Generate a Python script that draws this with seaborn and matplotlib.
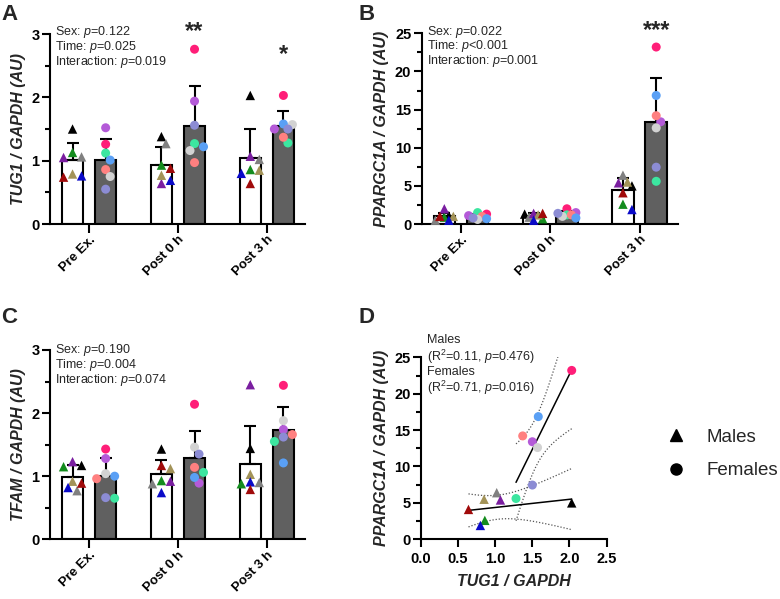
#! /bin/env python3

''' Four panel figure: TUG1 / PPARGC1A / TFAM expression and TUG1 vs PPARGC1A '''

import numpy as np
import pandas as pd
import matplotlib
matplotlib.use("Agg")
import matplotlib.pyplot as plt
import seaborn as sns
from matplotlib.ticker import MultipleLocator
from matplotlib.lines import Line2D

TIMES = ["Pre Ex.", "Post 0 h", "Post 3 h"]

# subject order, males: black, grey, green, purple, olive, blue, dark red
MALE_COLORS = ["#000000", "#808080", "#148c1e", "#7a1ea0", "#a39358", "#0a0ac8", "#a00a0a"]
# subject order, females: pink, orchid, aquamarine, salmon, cornflower, light grey, slate
FEMALE_COLORS = ["#ff1e78", "#b45ad8", "#3ce6a0", "#ff8080", "#5aa0f5", "#d2d2d2", "#8c8cd4"]

# TUG1 / GAPDH (panel A)
tug1_m_pre = [1.50, 1.06, 1.13, 1.05, 0.79, 0.76, 0.74]
tug1_m_p0 = [1.38, 1.27, 0.93, 0.64, 0.77, 0.69, 0.88]
tug1_m_p3 = [2.03, 1.02, 0.86, 1.07, 0.85, 0.80, 0.64]
tug1_f_pre = [1.26, 1.52, 1.12, 0.86, 1.01, 0.75, 0.55]
tug1_f_p0 = [2.76, 1.94, 1.27, 0.97, 1.22, 1.16, 1.56]
tug1_f_p3 = [2.03, 1.50, 1.28, 1.37, 1.58, 1.57, 1.50]

# PPARGC1A / GAPDH (panel B)
pgc_m_pre = [1.1, 0.5, 0.9, 2.0, 1.0, 0.5, 1.0]
pgc_m_p0 = [1.3, 0.9, 0.7, 1.4, 1.2, 0.5, 1.4]
pgc_m_p3 = [5.0, 6.4, 2.6, 5.4, 5.5, 1.9, 4.1]
pgc_f_pre = [1.3, 1.1, 1.5, 1.0, 0.7, 0.6, 0.8]
pgc_f_p0 = [2.0, 1.5, 1.2, 1.2, 0.8, 1.0, 1.4]
pgc_f_p3 = [23.2, 13.4, 5.6, 14.2, 16.85, 12.6, 7.45]

# TFAM / GAPDH (panel C)
tfam_m_pre = [1.17, 0.77, 1.15, 1.23, 0.92, 0.82, 0.89]
tfam_m_p0 = [1.43, 0.88, 0.93, 0.92, 1.12, 0.74, 1.17]
tfam_m_p3 = [1.44, 0.90, 0.88, 2.45, 1.03, 0.91, 0.79]
tfam_f_pre = [1.43, 1.28, 0.65, 0.96, 1.00, 1.04, 0.66]
tfam_f_p0 = [2.14, 0.89, 1.06, 1.14, 0.98, 1.46, 1.35]
tfam_f_p3 = [2.44, 1.74, 1.55, 1.66, 1.21, 1.88, 1.62]

stats_a = ["Sex: $\\mathit{p}$=0.122", "Time: $\\mathit{p}$=0.025", "Interaction: $\\mathit{p}$=0.019"]
stats_b = ["Sex: $\\mathit{p}$=0.022", "Time: $\\mathit{p}$<0.001", "Interaction: $\\mathit{p}$=0.001"]
stats_c = ["Sex: $\\mathit{p}$=0.190", "Time: $\\mathit{p}$=0.004", "Interaction: $\\mathit{p}$=0.074"]
stats_d = ["Males", "($\\mathregular{R^2}$=0.11, $\\mathit{p}$=0.476)",
           "Females", "($\\mathregular{R^2}$=0.71, $\\mathit{p}$=0.016)"]

T_CRIT = 2.5706  # t(0.975, df=5)
DODGE = 0.18625
LW = 1.5


def swarm_x(ax, xc, values, diam=9.0):
    ''' nudge points sideways (inside the bar) where they would overlap '''
    pts = ax.transData.transform(np.column_stack([np.full(len(values), xc), values]))
    px_per_x = ax.transData.transform((1, 0))[0] - ax.transData.transform((0, 0))[0]
    placed = []
    xs = np.zeros(len(values))
    for i in np.argsort(-np.asarray(values)):
        y = pts[i, 1]
        best, best_dist = 0.0, -1.0
        for k in [0, 1, -1, 2, -2]:
            dx = k * diam * 0.5
            dist = min([np.hypot(dx - px, y - py) for px, py in placed] or [99.0])
            if dist >= diam * 0.8:
                best = dx
                break
            if dist > best_dist:
                best, best_dist = dx, dist
        placed.append((best, y))
        xs[i] = xc + best / px_per_x
    return xs


def draw_points(ax, xc, values, colors, marker):
    xs = swarm_x(ax, xc, values)
    names = [f"s{i}" for i in range(len(values))]
    sns.scatterplot(x=xs, y=values, hue=names, palette=dict(zip(names, colors)),
                    marker=marker, s=46 if marker == "^" else 42, edgecolor="none",
                    legend=False, ax=ax, zorder=4, clip_on=False)


def style_axis(ax):
    sns.despine(ax=ax)
    for side in ("left", "bottom"):
        ax.spines[side].set_linewidth(LW)
    ax.tick_params(axis="both", which="major", width=LW, length=6, pad=1.5,
                   labelsize=10.5)
    ax.tick_params(axis="y", which="minor", width=LW, length=3.5)
    for lab in ax.get_xticklabels() + ax.get_yticklabels():
        lab.set_fontweight("bold")


def bar_panel(ax, male_sets, female_sets, ymax, major, ylabel, stats, stat_y):
    rows = []
    for t, m, f in zip(TIMES, male_sets, female_sets):
        rows += [(t, "Male", v) for v in m]
        rows += [(t, "Female", v) for v in f]
    data = pd.DataFrame(rows, columns=["time", "sex", "value"])

    sns.barplot(data=data, x="time", y="value", hue="sex", order=TIMES,
                hue_order=["Male", "Female"],
                palette={"Male": "white", "Female": "#606060"},
                errorbar=None, width=2 * 2 * DODGE, gap=0.35, edgecolor="black",
                linewidth=LW, legend=False, ax=ax)
    ax.set_xlim(-0.44, 2.43)
    ax.set_ylim(0, ymax)

    summary = data.groupby(["time", "sex"])["value"].agg(["mean", "std"])
    for i, t in enumerate(TIMES):
        for sex, off in (("Male", -DODGE), ("Female", DODGE)):
            mu, sd = summary.loc[(t, sex)]
            ax.errorbar(i + off, mu, yerr=[[0], [sd]], fmt="none", ecolor="black",
                        elinewidth=LW, capsize=4.5, capthick=LW, zorder=3)

    for i, (m, f) in enumerate(zip(male_sets, female_sets)):
        draw_points(ax, i - DODGE, m, MALE_COLORS, "^")
        draw_points(ax, i + DODGE, f, FEMALE_COLORS, "o")

    ax.set_xlim(-0.44, 2.43)
    ax.set_ylim(0, ymax)
    ax.yaxis.set_major_locator(MultipleLocator(major))
    ax.yaxis.set_minor_locator(MultipleLocator(major / 2))
    ax.set_xticks(range(len(TIMES)))
    ax.set_xticklabels(TIMES, rotation=45, ha="right", rotation_mode="anchor")
    ax.set_xlabel("")
    ax.set_ylabel(ylabel, fontsize=11.5, fontweight="bold", style="italic", labelpad=4)
    style_axis(ax)
    ax.tick_params(axis="x", which="major", length=6.5, pad=0.5, labelsize=9.5)

    for txt, yy in zip(stats, stat_y):
        ax.text(0.02, yy, txt, transform=ax.transAxes, fontsize=9, va="center",
                ha="left", clip_on=False)


def _main():
    sns.set_style("ticks")
    plt.rcParams.update({
        "font.family": ["Liberation Sans", "DejaVu Sans"],
        "mathtext.fontset": "custom",
        "mathtext.rm": "Liberation Sans",
        "mathtext.it": "Liberation Sans:italic",
        "mathtext.bf": "Liberation Sans:bold",
        "axes.edgecolor": "black",
        "xtick.color": "black",
        "ytick.color": "black",
    })

    fig = plt.figure(figsize=(7.8, 5.99), dpi=100)
    ax_a = fig.add_axes([0.0641, 0.626, 0.327, 0.3172])
    ax_b = fig.add_axes([0.5406, 0.626, 0.3286, 0.3184])
    ax_c = fig.add_axes([0.0641, 0.0997, 0.327, 0.316])
    ax_d = fig.add_axes([0.5397, 0.0997, 0.238, 0.3038])

    bar_panel(ax_a, [tug1_m_pre, tug1_m_p0, tug1_m_p3],
              [tug1_f_pre, tug1_f_p0, tug1_f_p3], 3, 1,
              "TUG1 / GAPDH (AU)", stats_a, [1.009, 0.933, 0.854])
    bar_panel(ax_b, [pgc_m_pre, pgc_m_p0, pgc_m_p3],
              [pgc_f_pre, pgc_f_p0, pgc_f_p3], 25, 5,
              "PPARGC1A / GAPDH (AU)", stats_b, [1.008, 0.932, 0.855])
    bar_panel(ax_c, [tfam_m_pre, tfam_m_p0, tfam_m_p3],
              [tfam_f_pre, tfam_f_p0, tfam_f_p3], 3, 1,
              "TFAM / GAPDH (AU)", stats_c, [1.0, 0.921, 0.842])

    # significance stars
    star = dict(fontsize=17, fontweight="bold", ha="center", va="baseline", clip_on=False)
    ax_a.text(1 + DODGE, 2.93, "**", **star)
    ax_a.text(2 + DODGE, 2.58, "*", **star)
    ax_b.text(2 + DODGE, 24.5, "***", **star)

    # panel D: correlation at Post 3 h
    ax_d.set_xlim(0, 2.5)
    ax_d.set_ylim(0, 25)
    for xv, yv, colors, marker in ((tug1_m_p3, pgc_m_p3, MALE_COLORS, "^"),
                                   (tug1_f_p3, pgc_f_p3, FEMALE_COLORS, "o")):
        xv = np.asarray(xv)
        yv = np.asarray(yv)
        slope, icpt = np.polyfit(xv, yv, 1)
        grid = np.linspace(xv.min(), xv.max(), 100)
        fit = slope * grid + icpt
        resid = yv - (slope * xv + icpt)
        s_err = np.sqrt(np.sum(resid ** 2) / (len(xv) - 2))
        sxx = np.sum((xv - xv.mean()) ** 2)
        half = T_CRIT * s_err * np.sqrt(1 / len(xv) + (grid - xv.mean()) ** 2 / sxx)
        ax_d.plot(grid, fit, color="black", lw=1.1, zorder=3)
        ax_d.plot(grid, fit + half, color="#555555", lw=0.9, ls=(0, (1, 1.5)), zorder=2)
        ax_d.plot(grid, fit - half, color="#555555", lw=0.9, ls=(0, (1, 1.5)), zorder=2)
        names = [f"s{i}" for i in range(len(xv))]
        sns.scatterplot(x=xv, y=yv, hue=names, palette=dict(zip(names, colors)),
                        marker=marker, s=46 if marker == "^" else 42, edgecolor="none",
                        legend=False, ax=ax_d, zorder=4, clip_on=False)
    ax_d.set_xlim(0, 2.5)
    ax_d.set_ylim(0, 25)
    ax_d.xaxis.set_major_locator(MultipleLocator(0.5))
    ax_d.xaxis.set_major_formatter("{x:.1f}")
    ax_d.yaxis.set_major_locator(MultipleLocator(5))
    ax_d.yaxis.set_minor_locator(MultipleLocator(2.5))
    ax_d.set_xlabel("TUG1 / GAPDH", fontsize=11.5, fontweight="bold", style="italic",
                    labelpad=6)
    ax_d.set_ylabel("PPARGC1A / GAPDH (AU)", fontsize=11.5, fontweight="bold",
                    style="italic", labelpad=4)
    style_axis(ax_d)
    ax_d.tick_params(axis="x", which="major", pad=3)
    for txt, yy in zip(stats_d, [1.096, 1.0, 0.921, 0.83]):
        ax_d.text(0.03, yy, txt, transform=ax_d.transAxes, fontsize=9, va="center",
                  ha="left", clip_on=False)

    handles = [Line2D([], [], ls="none", marker="^", color="black", markersize=8),
               Line2D([], [], ls="none", marker="o", color="black", markersize=8)]
    fig.legend(handles, ["Males", "Females"], loc="center left",
               bbox_to_anchor=(661 / 780, 1 - 454 / 599), frameon=False,
               fontsize=13.5, labelspacing=0.85, handletextpad=0.8, handlelength=1.6,
               borderpad=0, borderaxespad=0)

    # panel letters
    for letter, (px, py) in zip("ABCD", [(1.5, 20), (359, 20), (1.5, 323), (359, 323)]):
        fig.text(px / 780, 1 - py / 599, letter, fontsize=16, fontweight="bold",
                 ha="left", va="baseline")

    fig.savefig("out.png", dpi=100)


if __name__ == "__main__":
    _main()
